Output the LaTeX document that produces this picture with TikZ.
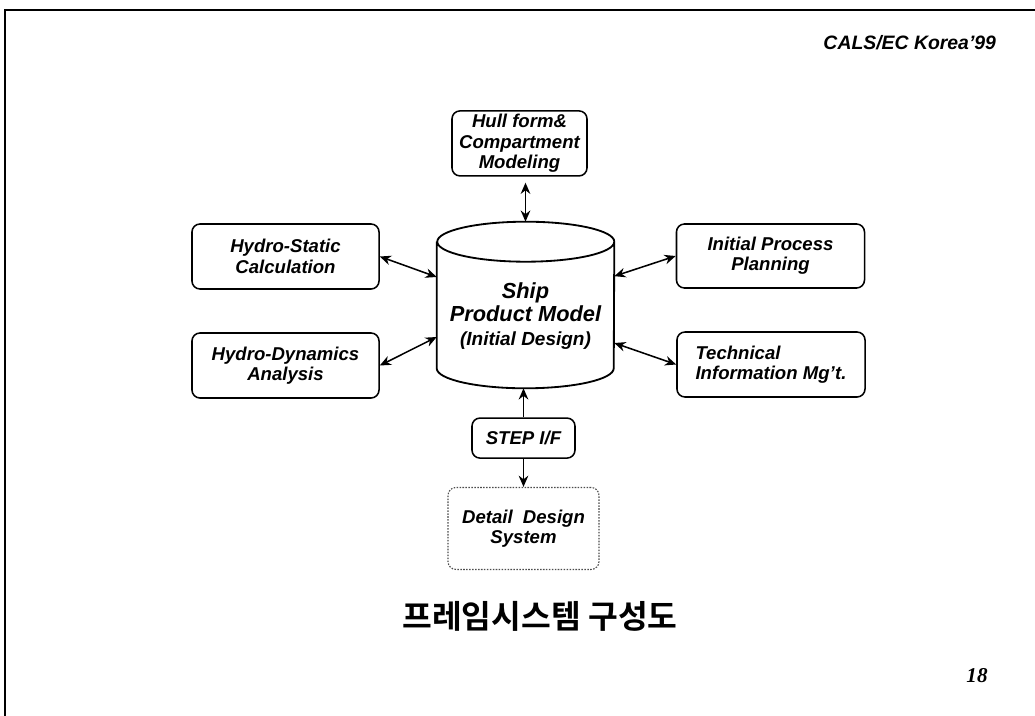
\documentclass[tikz,border=0pt]{standalone}
\usepackage{fontspec}
\setmainfont{Liberation Sans}
\newfontfamily\krfont{Noto Sans CJK KR}[BoldFont={Noto Sans CJK KR Bold}]
\newfontfamily\numfont{Liberation Serif}
\usetikzlibrary{arrows.meta, positioning}

\begin{document}
\begin{tikzpicture}[
        x=0.025cm, y=-0.025cm,
        node distance=1.1cm,
        box/.style={rectangle, draw, rounded corners=2mm, line width=1.1pt, align=center, inner sep=2pt,
            font=\bfseries\itshape\fontsize{13.2}{14.5}\selectfont},
        arrow/.style={{Stealth[length=2.8mm, width=2.4mm]}-{Stealth[length=2.8mm, width=2.4mm]}, line width=1.1pt},
        uparrow/.style={-{Stealth[length=2.8mm, width=2.4mm]}, line width=1.1pt}
    ]
        \useasboundingbox (0,0) rectangle (1035,716);

        % Page frame and header
        \draw[line width=1.5pt] (5,716) -- (5,10) -- (1035,10);
        \node[anchor=east, font=\bfseries\itshape\fontsize{13.8}{15}\selectfont] (header) at (1001,43) {CALS/EC Korea'99};

        % Product model (cylinder)
        \node[minimum width=4.425cm, minimum height=4.15cm, inner sep=0pt] (cyl) at (525.5,305) {};
        \draw[line width=1.3pt] ([yshift=-5mm]cyl.north west) -- ([yshift=5mm]cyl.south west)
            arc[start angle=180, end angle=360, x radius=2.2125cm, y radius=5mm]
            -- ([yshift=-5mm]cyl.north east)
            arc[start angle=0, end angle=180, x radius=2.2125cm, y radius=5mm]
            arc[start angle=180, end angle=360, x radius=2.2125cm, y radius=5mm];
        \node[align=center, font=\bfseries\itshape\fontsize{15.5}{17}\selectfont] (cyltext) at (525.5,316)
            {Ship\\Product Model\\{\fontsize{13.5}{15}\selectfont (Initial Design)}};

        % Surrounding applications
        \node[box, minimum width=3.375cm, minimum height=1.625cm, above=1.125cm of cyl, xshift=-0.15cm] (hull)
            {Hull form\&\\Compartment\\Modeling};
        \node[box, minimum width=4.675cm, minimum height=1.625cm] (static) at (285.5,256.5)
            {Hydro-Static\\Calculation};
        \node[box, minimum width=4.675cm, minimum height=1.625cm] (dynamics) at (285.5,365.5)
            {Hydro-Dynamics\\Analysis};
        \node[box, minimum width=4.7cm, minimum height=1.6cm] (process) at (770.5,256)
            {Initial Process\\Planning};
        \node[box, minimum width=4.7cm, minimum height=1.625cm, align=left] (tech) at (771,364.5)
            {Technical\\Information Mg't.};

        % Interface to detail design
        \node[box, minimum width=2.575cm, minimum height=1cm, below=0.725cm of cyl, xshift=-0.05cm] (step) {STEP I/F};
        \node[box, draw=black!70, densely dotted, line width=0.8pt, minimum width=3.775cm, minimum height=2.05cm,
            below=0.7cm of step] (detail) {Detail\ \ Design\\System};

        % Connections
        \draw[arrow, shorten <=1.5mm] (hull.south -| cyl.north) -- (cyl.north);
        \draw[arrow] (static.east) -- ([yshift=0.7cm]cyl.west);
        \draw[arrow] (dynamics.east) -- ([yshift=-0.8cm]cyl.west);
        \draw[arrow] (process.west) -- ([yshift=0.72cm]cyl.east);
        \draw[arrow] (tech.west) -- ([yshift=-0.95cm]cyl.east);
        \draw[uparrow] (step.north) -- (step.north |- cyl.south);
        \draw[uparrow] (step.south) -- (detail.north);

        % Title and page number
        \node[font=\krfont\bfseries\fontsize{23}{26}\selectfont] (title) at (540,616) {프레임시스템 구성도};
        \node[font=\numfont\bfseries\itshape\fontsize{15}{17}\selectfont] (pagenum) at (977,676) {18};
    \end{tikzpicture}
\end{document}
